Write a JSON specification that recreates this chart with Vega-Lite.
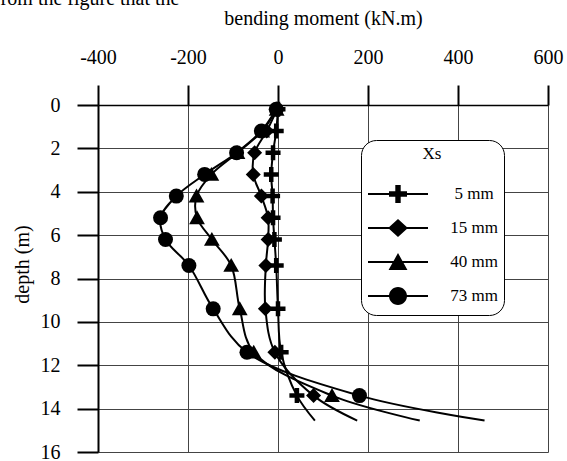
{
  "$schema": "https://vega.github.io/schema/vega-lite/v6.json",
  "width": 450,
  "height": 347,
  "autosize": "none",
  "padding": {"left": 98, "top": 105, "right": 19, "bottom": 9},
  "background": "white",
  "title": {
    "text": "from the figure that the",
    "anchor": "start",
    "frame": "group",
    "font": "Liberation Serif",
    "fontSize": 20,
    "fontWeight": "normal",
    "color": "black",
    "baseline": "alphabetic",
    "dx": -104,
    "dy": 17,
    "offset": 0
  },
  "config": {
    "font": "Liberation Serif",
    "view": {"stroke": null},
    "axis": {
      "labelFont": "Liberation Serif",
      "titleFont": "Liberation Serif",
      "labelColor": "black",
      "titleColor": "black",
      "labelFontSize": 20,
      "titleFontSize": 20,
      "titleFontWeight": "normal",
      "domainColor": "black",
      "tickColor": "black",
      "gridColor": "#444444",
      "gridOpacity": 1,
      "gridWidth": 1
    }
  },
  "data": {
    "values": [
      {"Xs": "5 mm", "kind": "measured", "depth": 0.2, "moment": 0},
      {"Xs": "5 mm", "kind": "measured", "depth": 1.2, "moment": -4},
      {"Xs": "5 mm", "kind": "measured", "depth": 2.2, "moment": -11},
      {"Xs": "5 mm", "kind": "measured", "depth": 3.2, "moment": -15},
      {"Xs": "5 mm", "kind": "measured", "depth": 4.2, "moment": -12},
      {"Xs": "5 mm", "kind": "measured", "depth": 5.2, "moment": -11},
      {"Xs": "5 mm", "kind": "measured", "depth": 6.2, "moment": -8},
      {"Xs": "5 mm", "kind": "measured", "depth": 7.4, "moment": -4},
      {"Xs": "5 mm", "kind": "measured", "depth": 9.4, "moment": 0},
      {"Xs": "5 mm", "kind": "measured", "depth": 11.4, "moment": 7},
      {"Xs": "5 mm", "kind": "measured", "depth": 13.4, "moment": 42},
      {"Xs": "5 mm", "kind": "curve end", "depth": 14.55, "moment": 82},
      {"Xs": "15 mm", "kind": "measured", "depth": 0.2, "moment": -2},
      {"Xs": "15 mm", "kind": "measured", "depth": 1.2, "moment": -25},
      {"Xs": "15 mm", "kind": "measured", "depth": 2.2, "moment": -52},
      {"Xs": "15 mm", "kind": "measured", "depth": 3.2, "moment": -55},
      {"Xs": "15 mm", "kind": "measured", "depth": 4.2, "moment": -37},
      {"Xs": "15 mm", "kind": "measured", "depth": 5.2, "moment": -22},
      {"Xs": "15 mm", "kind": "measured", "depth": 6.2, "moment": -22},
      {"Xs": "15 mm", "kind": "measured", "depth": 7.4, "moment": -27},
      {"Xs": "15 mm", "kind": "measured", "depth": 9.4, "moment": -28},
      {"Xs": "15 mm", "kind": "measured", "depth": 11.4, "moment": -7},
      {"Xs": "15 mm", "kind": "measured", "depth": 13.4, "moment": 79},
      {"Xs": "15 mm", "kind": "curve end", "depth": 14.55, "moment": 176},
      {"Xs": "40 mm", "kind": "measured", "depth": 0.2, "moment": -3},
      {"Xs": "40 mm", "kind": "measured", "depth": 1.2, "moment": -35},
      {"Xs": "40 mm", "kind": "measured", "depth": 2.2, "moment": -90},
      {"Xs": "40 mm", "kind": "measured", "depth": 3.2, "moment": -148},
      {"Xs": "40 mm", "kind": "measured", "depth": 4.2, "moment": -181},
      {"Xs": "40 mm", "kind": "measured", "depth": 5.2, "moment": -180},
      {"Xs": "40 mm", "kind": "measured", "depth": 6.2, "moment": -147},
      {"Xs": "40 mm", "kind": "measured", "depth": 7.4, "moment": -104},
      {"Xs": "40 mm", "kind": "measured", "depth": 9.4, "moment": -85},
      {"Xs": "40 mm", "kind": "measured", "depth": 11.4, "moment": -54},
      {"Xs": "40 mm", "kind": "measured", "depth": 13.4, "moment": 120},
      {"Xs": "40 mm", "kind": "curve end", "depth": 14.55, "moment": 315},
      {"Xs": "73 mm", "kind": "measured", "depth": 0.2, "moment": -4},
      {"Xs": "73 mm", "kind": "measured", "depth": 1.2, "moment": -37},
      {"Xs": "73 mm", "kind": "measured", "depth": 2.2, "moment": -92},
      {"Xs": "73 mm", "kind": "measured", "depth": 3.2, "moment": -163},
      {"Xs": "73 mm", "kind": "measured", "depth": 4.2, "moment": -226},
      {"Xs": "73 mm", "kind": "measured", "depth": 5.2, "moment": -261},
      {"Xs": "73 mm", "kind": "measured", "depth": 6.2, "moment": -250},
      {"Xs": "73 mm", "kind": "measured", "depth": 7.4, "moment": -198},
      {"Xs": "73 mm", "kind": "measured", "depth": 9.4, "moment": -144},
      {"Xs": "73 mm", "kind": "measured", "depth": 11.4, "moment": -69},
      {"Xs": "73 mm", "kind": "measured", "depth": 13.4, "moment": 181},
      {"Xs": "73 mm", "kind": "curve end", "depth": 14.55, "moment": 459}
    ]
  },
  "encoding": {
    "x": {
      "field": "moment",
      "type": "quantitative",
      "scale": {"domain": [-400, 600], "nice": false, "zero": false},
      "axis": {
        "orient": "top",
        "title": "bending moment (kN.m)",
        "values": [-400, -200, 0, 200, 400, 600],
        "labelExpr": "'' + datum.value",
        "tickSize": 20,
        "tickWidth": 2,
        "domainWidth": 1.5,
        "labelPadding": 18,
        "labelFlush": false,
        "labelOverlap": false,
        "titleBaseline": "alphabetic",
        "titleY": -81,
        "titlePadding": 0
      }
    },
    "y": {
      "field": "depth",
      "type": "quantitative",
      "scale": {"domain": [0, 16], "reverse": true, "nice": false, "zero": false},
      "axis": {
        "orient": "left",
        "title": "depth (m)",
        "values": [0, 2, 4, 6, 8, 10, 12, 14, 16],
        "tickSize": 21,
        "tickWidth": 2,
        "domainWidth": 2,
        "labelPadding": 17,
        "labelFlush": false,
        "labelOverlap": false,
        "titleBaseline": "alphabetic",
        "titleAngle": -90,
        "titleX": -70,
        "titleY": 159
      }
    }
  },
  "resolve": {"scale": {"shape": "independent"}, "legend": {"shape": "independent"}},
  "layer": [
    {
      "mark": {"type": "line", "interpolate": "catmull-rom", "strokeWidth": 2, "color": "black"},
      "encoding": {
        "detail": {"field": "Xs"},
        "order": {"field": "depth", "type": "quantitative"}
      }
    },
    {
      "transform": [{"filter": "datum.kind === 'measured'"}],
      "mark": {"type": "point", "filled": true, "opacity": 1, "size": 225, "color": "black"},
      "encoding": {
        "shape": {
          "field": "Xs",
          "type": "nominal",
          "scale": {
            "domain": ["5 mm", "15 mm", "40 mm", "73 mm"],
            "range": [
              "M-1,-0.3H-0.3V-1H0.3V-0.3H1V0.3H0.3V1H-0.3V0.3H-1Z",
              "M0,-1L1,0L0,1L-1,0Z",
              "M0,-1L1.05,0.85L-1.05,0.85Z",
              "circle"
            ]
          },
          "legend": null
        }
      }
    },
    {
      "transform": [{"filter": "datum.kind === 'measured'"}],
      "mark": {"type": "point", "filled": true, "opacity": 0, "size": 225, "color": "black"},
      "encoding": {
        "shape": {
          "field": "Xs",
          "type": "nominal",
          "scale": {
            "domain": ["5 mm", "15 mm", "40 mm", "73 mm"],
            "range": [
              "M-3.333,-0.11H3.333V0.11H-3.333ZM-1,-0.3H-0.3V-1H0.3V-0.3H1V0.3H0.3V1H-0.3V0.3H-1Z",
              "M-3.333,-0.11H3.333V0.11H-3.333ZM0,-1L1.1,0L0,1L-1.1,0Z",
              "M-3.333,-0.11H3.333V0.11H-3.333ZM0,-1L1.05,0.9L-1.05,0.9Z",
              "M-3.333,-0.11H3.333V0.11H-3.333ZM-1,0A1,1 0 1,1 1,0A1,1 0 1,1 -1,0Z"
            ]
          },
          "legend": {
            "orient": "none",
            "legendX": 263,
            "legendY": 35,
            "title": "Xs",
            "titleFont": "Liberation Serif",
            "titleFontSize": 17,
            "titleFontWeight": "normal",
            "titleColor": "black",
            "titleAnchor": "middle",
            "titleAlign": "center",
            "titlePadding": 21,
            "labelFont": "Liberation Serif",
            "labelFontSize": 17,
            "labelColor": "black",
            "labelAlign": "center",
            "labelOffset": 66,
            "symbolOffset": 21,
            "symbolSize": 324,
            "symbolOpacity": 1,
            "symbolFillColor": "black",
            "symbolStrokeColor": "black",
            "symbolStrokeWidth": 2,
            "rowPadding": 8,
            "padding": 6,
            "strokeColor": "black",
            "cornerRadius": 15,
            "fillColor": "white"
          }
        }
      }
    }
  ]
}
